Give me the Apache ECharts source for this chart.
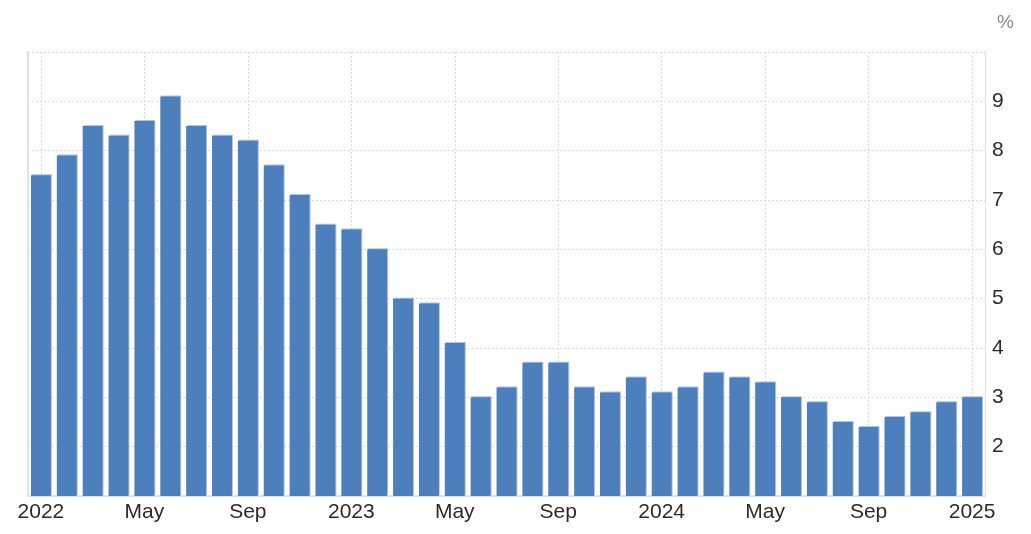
<!DOCTYPE html>
<html>
<head>
<meta charset="utf-8">
<script src="https://cdn.jsdelivr.net/npm/echarts@6/dist/echarts.min.js"></script>
<style>
html,body{margin:0;padding:0;background:#fff;}
#chart{width:1031px;height:534px;}
</style>
</head>
<body>
<div id="chart"></div>
<script>
const categories = [
  '2022','Feb','Mar','Apr','May','Jun','Jul','Aug','Sep','Oct','Nov','Dec',
  '2023','Feb','Mar','Apr','May','Jun','Jul','Aug','Sep','Oct','Nov','Dec',
  '2024','Feb','Mar','Apr','May','Jun','Jul','Aug','Sep','Oct','Nov','Dec',
  '2025'
];
const values = [
  7.5, 7.9, 8.5, 8.3, 8.6, 9.1, 8.5, 8.3, 8.2, 7.7, 7.1, 6.5,
  6.4, 6.0, 5.0, 4.9, 4.1, 3.0, 3.2, 3.7, 3.7, 3.2, 3.1, 3.4,
  3.1, 3.2, 3.5, 3.4, 3.3, 3.0, 2.9, 2.5, 2.4, 2.6, 2.7, 2.9,
  3.0
];
const unitLabel = '%';

const chart = echarts.init(document.getElementById('chart'), null, {renderer: 'canvas'});
const font = '"Liberation Sans", Arial, Helvetica, sans-serif';
chart.setOption({
  animation: false,
  textStyle: {fontFamily: font},
  title: {
    text: unitLabel, right: 12, top: 8,
    textStyle: {fontFamily: font, fontSize: 19, fontWeight: 'normal', color: '#8a8a8a'}
  },
  grid: {left: 28, right: 46, top: 52, bottom: 38, containLabel: false},
  xAxis: {
    type: 'category',
    data: categories,
    boundaryGap: true,
    axisLine: {show: true, lineStyle: {color: '#e2e2e2', width: 2}},
    axisTick: {show: false},
    axisLabel: {
      interval: 3, margin: 6, fontSize: 21, color: '#2b2b2b', fontFamily: font
    },
    splitLine: {
      show: true, interval: 3, alignWithLabel: true,
      lineStyle: {color: '#dcdcdc', type: [2, 2], width: 1}
    }
  },
  yAxis: [{
    type: 'value',
    position: 'right',
    min: 1, max: 10, interval: 1,
    axisLine: {show: true, lineStyle: {color: '#e2e2e2', width: 1}},
    axisTick: {show: false},
    axisLabel: {
      show: true, showMinLabel: false, showMaxLabel: false,
      margin: 7, fontSize: 21, color: '#2b2b2b', fontFamily: font,
      verticalAlign: 'middle', padding: [0, 0, 5, 0]
    },
    splitLine: {show: true, lineStyle: {color: '#dcdcdc', type: [2, 2], width: 1}}
  }, {
    type: 'value',
    position: 'left',
    min: 1, max: 10, interval: 1,
    axisLine: {show: true, lineStyle: {color: '#e2e2e2', width: 2}},
    axisTick: {show: false},
    axisLabel: {show: false},
    splitLine: {show: false}
  }],
  series: [{
    type: 'bar',
    data: values,
    yAxisIndex: 0,
    barCategoryGap: '23%',
    itemStyle: {
      color: '#4d7fbd',
      shadowColor: 'rgba(77,127,189,0.45)',
      shadowOffsetX: 1, shadowOffsetY: -1, shadowBlur: 0
    }
  }]
});
</script>
</body>
</html>
